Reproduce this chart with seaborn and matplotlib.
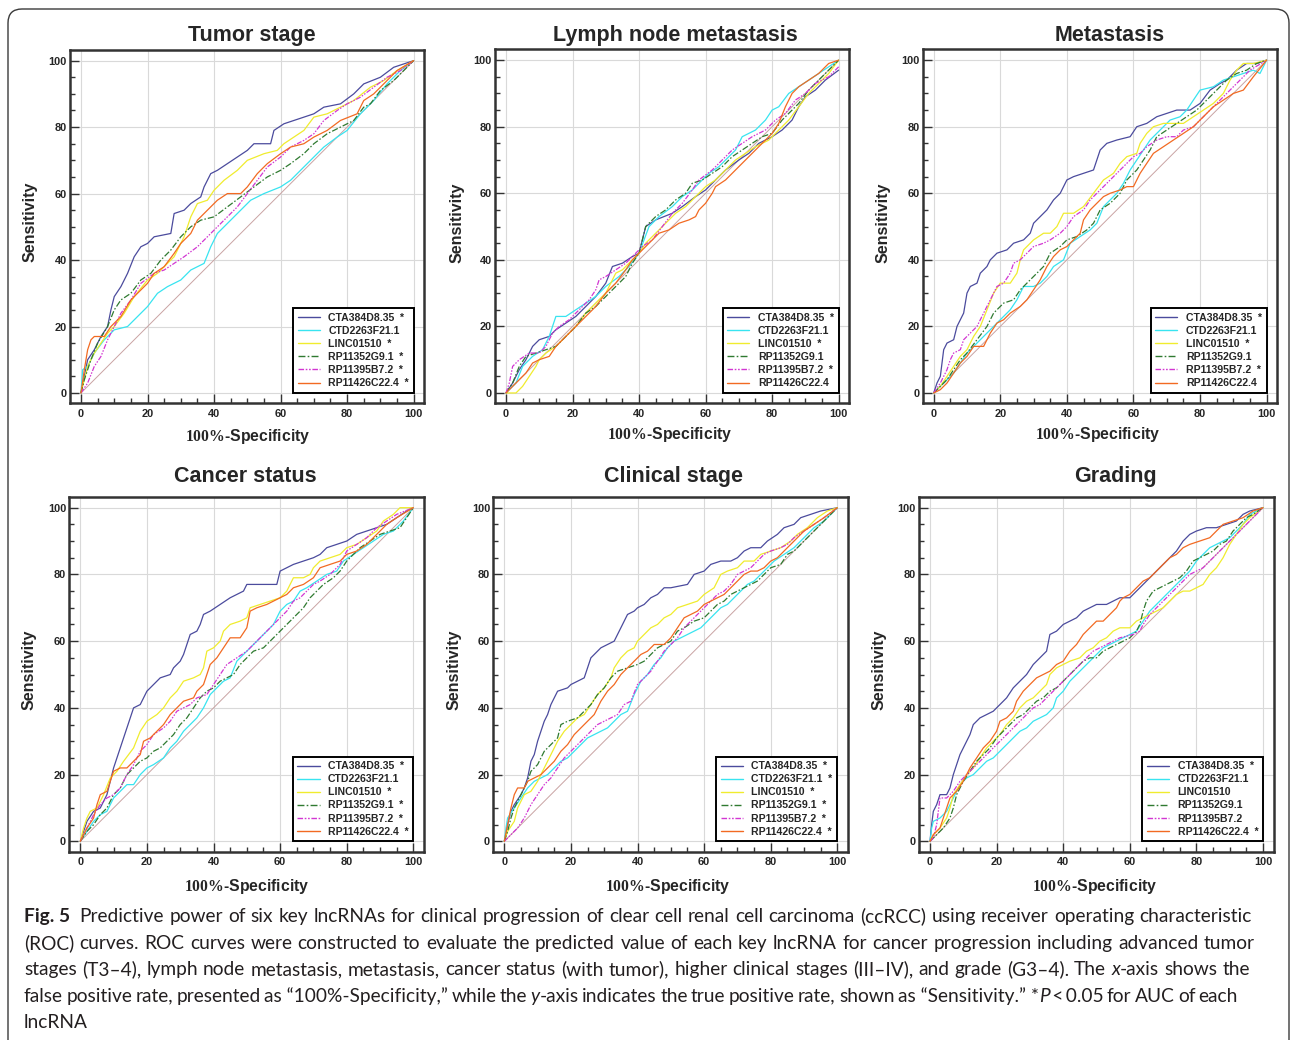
import matplotlib
matplotlib.use("Agg")
import matplotlib.pyplot as plt
import matplotlib.transforms as mtransforms
from matplotlib.patches import FancyBboxPatch
from matplotlib.font_manager import FontProperties, findfont
import pandas as pd
import seaborn as sns

# ---------------- data ----------------
PANEL_TITLES = ["Tumor stage", "Lymph node metastasis", "Metastasis",
                "Cancer status", "Clinical stage", "Grading"]
GENES = ["CTA384D8.35", "CTD2263F21.1", "LINC01510",
         "RP11352G9.1", "RP11395B7.2", "RP11426C22.4"]
# significance star (P<0.05) per panel, in GENES order
STARS_TUMOR = [1, 0, 1, 1, 1, 1]
STARS_LYMPH = [1, 0, 1, 0, 1, 0]
STARS_METAS = [1, 0, 1, 0, 1, 0]
STARS_CANCER = [1, 0, 1, 1, 1, 1]
STARS_CLIN = [1, 1, 1, 1, 1, 1]
STARS_GRADE = [1, 0, 0, 0, 0, 1]
DIAG_X = [0, 100]
DIAG_Y = [0, 100]
X_TICKS = [0, 20, 40, 60, 80, 100]
Y_TICKS = [0, 20, 40, 60, 80, 100]

# ---- Tumor stage ----
TUMOR_CTA = [(0,0),(1,5),(2,10),(4,13),(6,17),(8,20),(9,25),(10,29),(12,32),(14,36),(16,41),(18,44),(20,45),(22,47),(27,48),(28,54),(31,55),(33,57),(36,59),(37,62),(39,66),(41,67),(44,69),(47,71),(50,73),(52,75),(57,75),(58,79),(61,81),(64,82),(70,84),(73,86),(78,87),(82,90),(85,93),(90,95),(94,98),(97,99),(100,100)]
TUMOR_CTD = [(0,0),(0.5,7),(2,8),(4,12),(7,16),(10,19),(14,20),(17,23),(20,26),(23,30),(26,32),(30,34),(33,37),(37,39),(39,44),(41,48),(45,52),(48,55),(51,58),(55,60),(60,62),(63,64),(66,67),(70,71),(73,74),(77,77),(80,79),(84,84),(88,88),(92,93),(96,97),(100,100)]
TUMOR_LINC = [(0,0),(2,8),(4,12),(6,15),(8,18),(10,20),(13,24),(16,29),(20,34),(23,36),(28,41),(31,47),(33,53),(35,57),(38,58),(40,61),(43,64),(47,67),(50,70),(55,72),(59,73),(61,75),(64,77),(67,79),(70,83),(74,84),(78,86),(82,88),(87,92),(91,94),(95,97),(100,100)]
TUMOR_RP352 = [(0,0),(1,4),(3,10),(5,15),(8,20),(10,25),(12,28),(15,30),(18,34),(21,36),(24,40),(27,43),(30,47),(33,50),(36,52),(40,53),(44,56),(48,59),(52,62),(56,65),(60,67),(63,69),(67,72),(70,75),(74,78),(78,80),(82,82),(85,86),(87,87),(90,91),(94,94),(100,100)]
TUMOR_RP395 = [(0,0),(2,3),(4,8),(6,11),(8,16),(10,20),(12,24),(15,28),(18,33),(22,36),(25,37),(28,39),(31,41),(35,44),(38,47),(41,50),(44,53),(47,56),(50,60),(53,64),(56,68),(60,71),(63,74),(67,76),(70,78),(73,82),(77,85),(80,87),(84,89),(88,92),(92,95),(96,97),(100,100)]
TUMOR_RP426 = [(0,0),(1,7),(2,13),(3,16),(4,17),(7,17),(9,20),(12,23),(15,28),(18,31),(20,33),(22,36),(25,38),(28,42),(30,45),(33,48),(35,52),(38,55),(41,58),(44,60),(48,60),(50,62),(53,66),(56,69),(60,72),(63,74),(67,75),(70,77),(74,79),(78,82),(83,84),(85,88),(88,90),(91,93),(95,97),(100,100)]

# ---- Lymph node metastasis ----
LYMPH_CTA = [(0,0),(2,3),(4,7),(6,10),(8,14),(10,16),(13,17),(15,19),(18,21),(21,23),(24,26),(27,29),(30,33),(32,38),(35,39),(38,41),(40,42),(42,50),(45,52),(50,54),(53,56),(57,59),(60,61),(63,64),(66,67),(70,70),(73,72),(76,75),(80,77),(83,79),(86,82),(88,86),(90,89),(93,91),(96,94),(100,97)]
LYMPH_CTD = [(0,0),(3,3),(5,8),(8,11),(11,13),(13,17),(15,23),(18,23),(21,25),(24,27),(27,29),(30,32),(34,35),(37,38),(40,42),(43,50),(46,53),(50,56),(53,59),(56,61),(58,63),(61,66),(64,68),(67,71),(69,73),(71,77),(75,79),(78,82),(80,85),(82,86),(85,90),(88,92),(91,94),(94,96),(97,98),(100,100)]
LYMPH_LINC = [(0,0),(3,0),(5,2),(7,5),(9,8),(10,10),(12,12),(15,14),(18,17),(21,20),(24,24),(27,27),(30,30),(33,36),(35,37),(38,40),(40,42),(42,45),(45,48),(48,51),(51,54),(54,56),(57,59),(60,62),(63,64),(66,67),(69,70),(72,72),(75,74),(79,76),(82,79),(85,82),(88,86),(91,90),(94,93),(97,96),(100,100)]
LYMPH_RP352 = [(0,0),(2,3),(4,8),(6,11),(9,12),(12,13),(15,14),(18,17),(21,20),(24,24),(27,26),(30,29),(33,32),(36,35),(38,39),(40,42),(42,50),(45,53),(48,55),(51,58),(54,60),(56,63),(59,64),(62,66),(65,68),(68,71),(71,73),(74,75),(77,77),(80,78),(83,82),(86,85),(88,87),(91,91),(94,94),(97,97),(100,100)]
LYMPH_RP395 = [(0,0),(1,3),(2,8),(4,10),(7,12),(10,12),(12,14),(14,18),(16,20),(19,22),(22,25),(25,28),(27,31),(28,34),(30,35),(33,37),(36,39),(39,42),(41,44),(44,46),(47,50),(50,54),(53,57),(56,61),(58,64),(62,67),(65,70),(68,73),(71,75),(74,77),(78,79),(81,82),(84,84),(87,88),(90,90),(93,93),(97,95),(100,98)]
LYMPH_RP426 = [(0,0),(2,2),(4,4),(6,6),(8,9),(10,10),(13,11),(15,14),(18,17),(21,20),(24,23),(27,26),(30,30),(33,33),(36,37),(38,40),(40,42),(43,45),(46,48),(49,49),(52,51),(55,52),(57,53),(58,55),(60,57),(62,60),(63,62),(66,64),(68,66),(71,69),(74,72),(77,75),(80,78),(82,81),(84,86),(86,90),(88,92),(91,94),(94,96),(97,99),(100,100)]

# ---- Metastasis ----
METAS_CTA = [(0,0),(1,3),(2,5),(3,13),(4,15),(6,16),(7,20),(8,22),(9,24),(10,30),(11,32),(13,33),(14,36),(16,38),(17,40),(19,42),(22,43),(24,45),(27,46),(29,48),(30,51),(32,53),(34,55),(36,58),(38,60),(40,64),(42,65),(45,66),(48,67),(49,70),(50,73),(52,75),(55,76),(59,77),(61,80),(64,81),(67,83),(70,84),(73,85),(77,85),(80,87),(83,91),(86,93),(88,94),(91,97),(94,99),(97,99),(100,100)]
METAS_CTD = [(0,0),(2,2),(4,4),(6,6),(8,9),(10,12),(13,15),(16,18),(18,20),(20,22),(23,25),(25,28),(27,32),(30,32),(32,33),(34,35),(36,38),(39,40),(41,45),(44,47),(47,49),(49,51),(51,56),(53,58),(55,60),(57,63),(59,67),(61,70),(63,73),(65,76),(68,79),(71,82),(74,83),(76,85),(78,88),(80,91),(84,92),(87,94),(90,95),(93,96),(96,97),(98,96),(100,100)]
METAS_LINC = [(0,0),(2,2),(4,5),(6,8),(8,11),(10,13),(12,17),(14,20),(16,25),(18,30),(20,33),(23,33),(25,36),(26,40),(27,43),(30,46),(33,48),(35,48),(37,50),(39,54),(42,54),(45,56),(48,60),(51,64),(54,66),(56,69),(58,71),(61,72),(62,75),(64,78),(66,80),(69,81),(75,81),(78,83),(81,85),(84,87),(87,90),(89,94),(91,97),(93,99),(96,99),(100,100)]
METAS_RP352 = [(0,0),(2,2),(4,4),(6,7),(8,10),(10,12),(13,16),(16,20),(18,24),(21,27),(24,28),(26,31),(28,33),(30,35),(33,38),(35,42),(38,44),(40,46),(43,47),(46,49),(48,51),(50,55),(53,57),(56,60),(58,64),(61,67),(63,70),(65,73),(67,77),(70,79),(73,81),(76,83),(79,85),(82,88),(85,91),(88,94),(91,96),(94,97),(97,99),(100,100)]
METAS_RP395 = [(0,0),(2,3),(4,7),(5,10),(6,12),(8,13),(9,16),(11,18),(13,20),(15,24),(17,28),(19,32),(21,33),(23,36),(24,39),(26,40),(28,42),(30,44),(33,45),(35,46),(38,48),(40,50),(42,53),(45,55),(47,58),(50,61),(53,64),(55,66),(57,68),(60,71),(62,72),(64,74),(67,76),(70,77),(73,77),(75,79),(78,80),(80,82),(83,85),(86,88),(89,91),(92,94),(95,97),(100,100)]
METAS_RP426 = [(0,0),(2,1),(4,3),(6,6),(8,9),(10,11),(12,14),(15,14),(17,18),(19,21),(21,22),(23,24),(26,26),(28,28),(30,31),(32,34),(34,38),(36,41),(38,43),(40,44),(42,46),(44,48),(45,52),(47,55),(49,57),(51,59),(53,60),(56,61),(58,62),(60,62),(62,66),(64,69),(66,72),(69,74),(72,76),(75,78),(78,80),(81,83),(84,86),(87,88),(90,90),(93,91),(96,95),(100,100)]

# ---- Cancer status ----
CANCER_CTA = [(0,0),(1,3),(2,6),(4,9),(6,10),(8,14),(9,18),(10,22),(11,25),(12,28),(13,31),(14,34),(15,37),(16,40),(18,41),(19,43),(20,45),(22,47),(24,49),(27,50),(28,52),(30,54),(31,56),(32,59),(33,62),(35,63),(36,65),(37,68),(39,69),(42,71),(45,73),(47,74),(49,75),(50,77),(59,77),(60,81),(62,82),(64,83),(67,84),(70,85),(72,86),(74,88),(77,89),(80,90),(83,92),(86,93),(89,94),(92,95),(95,97),(98,99),(100,100)]
CANCER_CTD = [(0,0),(2,3),(4,6),(6,8),(8,9),(10,13),(12,15),(14,17),(16,17),(18,20),(20,22),(22,23),(25,25),(27,28),(29,30),(31,33),(33,35),(35,37),(37,40),(39,44),(41,46),(43,48),(45,49),(47,54),(49,56),(51,58),(54,61),(56,63),(58,65),(60,69),(62,71),(64,72),(66,75),(68,76),(71,78),(74,80),(77,81),(79,84),(82,86),(85,88),(88,90),(91,92),(94,93),(97,96),(100,100)]
CANCER_LINC = [(0,0),(1,4),(2,7),(3,9),(5,10),(7,14),(9,19),(11,21),(13,24),(16,28),(18,33),(20,36),(23,38),(25,40),(27,43),(29,45),(31,48),(34,49),(36,50),(37,52),(38,57),(40,58),(42,60),(43,63),(45,65),(48,66),(50,67),(51,70),(54,71),(57,72),(60,73),(62,75),(64,79),(67,79),(69,80),(70,82),(72,84),(75,85),(78,86),(80,88),(83,89),(86,91),(89,93),(91,96),(94,98),(96,100),(100,100)]
CANCER_RP352 = [(0,0),(2,3),(4,5),(6,8),(8,10),(10,14),(12,16),(14,20),(16,22),(18,24),(20,25),(22,27),(24,28),(26,30),(28,32),(30,35),(32,37),(34,40),(36,43),(38,45),(40,46),(42,48),(44,49),(46,50),(48,53),(50,55),(52,57),(55,58),(57,60),(59,62),(61,64),(63,66),(65,68),(67,70),(69,73),(71,75),(73,77),(76,79),(78,81),(80,84),(82,86),(84,88),(87,90),(90,92),(93,93),(96,94),(98,97),(100,100)]
CANCER_RP395 = [(0,0),(1,2),(2,4),(4,8),(6,11),(8,13),(10,14),(12,16),(14,20),(16,23),(18,27),(20,29),(22,32),(25,34),(27,36),(29,39),(31,40),(33,41),(35,43),(38,44),(40,47),(42,50),(44,53),(47,55),(50,57),(53,60),(55,62),(57,64),(60,67),(62,69),(64,72),(66,73),(68,75),(70,77),(72,78),(75,80),(78,83),(80,87),(83,89),(86,91),(89,94),(92,96),(95,98),(100,100)]
CANCER_RP426 = [(0,0),(1,2),(2,4),(4,7),(5,11),(6,14),(8,15),(9,18),(10,21),(12,22),(14,22),(16,24),(18,26),(19,30),(21,31),(23,33),(25,35),(27,38),(29,40),(31,42),(34,43),(35,45),(37,47),(38,50),(39,53),(41,55),(43,58),(45,61),(48,61),(50,64),(51,69),(53,70),(56,71),(58,72),(60,73),(62,74),(64,76),(67,77),(70,79),(72,82),(75,83),(78,84),(80,86),(83,87),(86,89),(89,92),(92,95),(95,97),(100,100)]

# ---- Clinical stage ----
CLIN_CTA = [(0,0),(1,5),(2,9),(3,11),(5,14),(6,16),(7,19),(8,24),(9,26),(10,30),(11,33),(12,36),(13,38),(14,41),(15,43),(16,45),(19,46),(20,47),(22,48),(24,49),(25,52),(26,55),(28,57),(29,58),(31,59),(33,60),(34,62),(35,64),(36,66),(37,68),(39,69),(40,70),(42,71),(44,73),(46,74),(48,76),(50,76),(55,77),(57,80),(60,81),(62,83),(65,84),(68,84),(70,85),(72,87),(74,88),(77,88),(79,90),(82,92),(84,94),(87,95),(89,97),(92,98),(95,99),(100,100)]
CLIN_CTD = [(0,0),(0.5,4),(1,7),(3,10),(5,13),(7,16),(9,18),(11,19),(13,20),(15,22),(17,24),(19,25),(21,27),(23,29),(25,31),(27,32),(29,33),(31,34),(33,36),(35,38),(37,39),(39,44),(41,48),(43,50),(45,53),(47,55),(49,58),(51,60),(53,61),(55,62),(57,63),(59,64),(61,66),(63,68),(65,70),(67,71),(69,73),(71,75),(73,77),(75,78),(77,80),(79,82),(81,84),(84,86),(87,88),(90,91),(93,94),(96,96),(100,100)]
CLIN_LINC = [(0,0),(1,3),(3,6),(4,10),(6,14),(8,15),(10,18),(12,22),(14,26),(16,30),(18,33),(20,35),(22,37),(24,38),(26,41),(28,44),(30,46),(32,49),(33,52),(35,55),(37,57),(39,58),(40,60),(42,62),(44,64),(46,65),(48,67),(50,68),(52,70),(55,71),(58,72),(60,74),(63,76),(65,80),(67,81),(70,82),(72,84),(75,84),(77,86),(80,87),(83,88),(86,90),(88,92),(91,94),(94,97),(97,99),(100,100)]
CLIN_RP352 = [(0,0),(1,3),(2,7),(3,10),(5,14),(7,18),(8,21),(10,23),(12,27),(14,29),(16,31),(17,35),(19,36),(22,37),(24,39),(26,41),(28,44),(30,46),(32,49),(34,51),(37,52),(40,53),(42,54),(44,56),(46,58),(48,59),(50,60),(52,63),(54,64),(57,66),(60,67),(62,69),(64,71),(66,72),(68,74),(70,75),(72,76),(74,77),(76,78),(78,80),(80,82),(83,83),(85,86),(87,87),(89,89),(92,92),(95,95),(98,98),(100,100)]
CLIN_RP395 = [(0,0),(2,2),(4,4),(6,7),(8,11),(10,14),(12,17),(14,19),(16,22),(18,25),(20,27),(22,29),(24,31),(26,33),(28,35),(30,36),(32,37),(34,38),(36,41),(38,42),(40,47),(42,49),(44,51),(46,54),(48,57),(50,59),(52,61),(54,64),(56,66),(58,68),(60,70),(62,72),(64,74),(66,75),(68,77),(70,80),(72,81),(74,82),(76,84),(78,86),(80,87),(83,88),(85,89),(87,91),(90,93),(93,95),(96,97),(100,100)]
CLIN_RP426 = [(0,0),(1,5),(2,10),(3,14),(4,16),(6,16),(7,18),(9,19),(11,20),(13,22),(15,24),(17,27),(19,29),(21,32),(23,34),(25,36),(27,38),(29,42),(31,45),(33,47),(35,50),(37,52),(39,54),(41,56),(43,57),(45,59),(48,59),(50,61),(52,64),(54,67),(56,68),(58,69),(60,71),(62,72),(64,73),(66,74),(68,76),(70,78),(72,80),(74,81),(76,81),(78,82),(80,84),(82,85),(84,87),(86,89),(88,91),(90,93),(93,95),(96,97),(100,100)]

# ---- Grading ----
GRADE_CTA = [(0,0),(0.5,5),(1,9),(2,11),(3,14),(5,14),(6,16),(7,20),(8,23),(9,26),(10,28),(12,32),(13,35),(15,37),(17,38),(19,39),(21,41),(23,43),(25,46),(27,48),(29,50),(31,53),(33,55),(35,57),(36,62),(38,63),(40,65),(42,66),(44,67),(46,69),(48,70),(50,71),(53,71),(55,72),(57,73),(60,73),(62,75),(64,77),(66,79),(68,81),(70,83),(72,85),(74,87),(76,90),(78,92),(80,93),(83,94),(86,94),(89,95),(92,96),(94,98),(96,99),(100,100)]
GRADE_CTD = [(0,0),(0.5,4),(1,6),(3,7),(5,9),(7,13),(9,17),(11,19),(13,20),(15,22),(17,24),(19,25),(21,27),(23,29),(25,31),(27,33),(29,34),(31,36),(33,37),(35,38),(37,40),(38,43),(40,45),(42,48),(44,50),(46,52),(48,54),(50,56),(52,58),(54,59),(56,60),(58,61),(60,62),(62,63),(64,66),(66,69),(68,71),(70,73),(72,75),(74,77),(76,79),(78,81),(80,84),(82,86),(84,88),(86,89),(88,90),(90,91),(92,93),(94,95),(96,98),(100,100)]
GRADE_LINC = [(0,0),(1,2),(3,4),(5,7),(6,10),(7,14),(9,17),(11,20),(13,22),(15,25),(17,28),(19,30),(21,32),(23,35),(25,37),(27,40),(29,42),(31,43),(33,45),(35,47),(36,50),(38,52),(40,53),(42,54),(45,55),(47,57),(49,58),(51,60),(53,61),(55,63),(57,64),(60,64),(62,66),(64,67),(66,68),(68,69),(70,70),(72,72),(74,74),(76,75),(78,75),(80,76),(82,77),(84,80),(86,82),(88,85),(90,89),(92,92),(94,95),(96,97),(100,100)]
GRADE_RP352 = [(0,0),(2,2),(4,4),(6,7),(7,10),(8,14),(10,18),(12,21),(14,24),(16,26),(18,28),(20,31),(22,33),(24,35),(26,37),(28,38),(30,40),(32,42),(34,43),(36,45),(38,46),(40,48),(42,50),(44,52),(46,54),(48,55),(50,55),(52,57),(54,58),(56,59),(58,60),(60,61),(62,63),(63,65),(64,69),(65,72),(67,75),(69,76),(71,77),(73,78),(75,79),(77,81),(79,84),(81,85),(83,86),(85,87),(87,89),(89,90),(91,93),(93,95),(95,97),(97,98),(100,100)]
GRADE_RP395 = [(0,0),(1,1),(2,5),(3,13),(5,13),(7,15),(9,18),(11,20),(13,22),(15,24),(17,26),(19,28),(21,30),(23,32),(25,34),(27,36),(29,38),(31,40),(33,41),(35,43),(37,45),(39,47),(41,49),(43,51),(45,53),(47,55),(49,57),(51,58),(53,59),(55,60),(57,61),(61,62),(63,63),(64,65),(66,68),(68,70),(70,72),(72,74),(74,76),(76,78),(78,80),(80,81),(82,82),(84,84),(86,86),(88,88),(90,90),(92,92),(95,95),(100,100)]
GRADE_RP426 = [(0,0),(1,2),(3,4),(4,7),(5,10),(6,13),(8,15),(10,18),(12,22),(14,25),(16,28),(18,30),(20,33),(21,36),(23,37),(25,39),(26,42),(28,45),(30,47),(32,49),(34,50),(36,51),(38,53),(40,54),(42,57),(44,59),(46,62),(48,64),(50,66),(52,66),(54,68),(56,70),(57,72),(58,73),(60,74),(62,76),(64,78),(66,79),(68,81),(70,83),(72,85),(74,86),(76,88),(78,89),(81,90),(84,91),(86,93),(88,95),(91,96),(94,97),(97,99),(100,100)]

PANEL_CURVES = [
    [TUMOR_CTA, TUMOR_CTD, TUMOR_LINC, TUMOR_RP352, TUMOR_RP395, TUMOR_RP426],
    [LYMPH_CTA, LYMPH_CTD, LYMPH_LINC, LYMPH_RP352, LYMPH_RP395, LYMPH_RP426],
    [METAS_CTA, METAS_CTD, METAS_LINC, METAS_RP352, METAS_RP395, METAS_RP426],
    [CANCER_CTA, CANCER_CTD, CANCER_LINC, CANCER_RP352, CANCER_RP395, CANCER_RP426],
    [CLIN_CTA, CLIN_CTD, CLIN_LINC, CLIN_RP352, CLIN_RP395, CLIN_RP426],
    [GRADE_CTA, GRADE_CTD, GRADE_LINC, GRADE_RP352, GRADE_RP395, GRADE_RP426],
]
PANEL_STARS = [STARS_TUMOR, STARS_LYMPH, STARS_METAS, STARS_CANCER, STARS_CLIN, STARS_GRADE]

# caption: words separated by spaces, italic parts between underscores
CAPTION_FIG = "Fig. 5"
CAPTION_LINES = [
    "Predictive power of six key lncRNAs for clinical progression of clear cell renal cell carcinoma (ccRCC) using receiver operating characteristic",
    "(ROC) curves. ROC curves were constructed to evaluate the predicted value of each key lncRNA for cancer progression including advanced tumor",
    "stages (T3\u20134), lymph node metastasis, metastasis, cancer status (with tumor), higher clinical stages (III\u2013IV), and grade (G3\u20134). The _x_-axis shows the",
    "false positive rate, presented as\u00a0\u201c100%-Specificity,\u201d while the _y_-axis indicates the true positive rate, shown as\u00a0\u201cSensitivity.\u201d\u00a0*_P_\u2009<\u20090.05 for AUC of each",
    "lncRNA",
]
CAPTION_RIGHT = [1252, 1255, 1250, 1238, None]

# ---------------- styles ----------------
COLORS = ["#4b4b9d", "#38e4f0", "#f0ec2e", "#2f7a30", "#d236d2", "#f26a22"]
DASHES = [None, None, None, (5, 1.6, 1.2, 1.6), (4, 1.2, 1.2, 1.2, 1.2, 1.2), None]

sns.set_theme(style="white")
plt.rcParams["font.family"] = ["Liberation Sans", "DejaVu Sans"]
plt.rcParams["mathtext.fontset"] = "custom"
plt.rcParams["mathtext.bf"] = "Liberation Serif:bold"
plt.rcParams["mathtext.rm"] = "Liberation Serif"

W, H = 1290, 1040
fig = plt.figure(figsize=(W / 100, H / 100), dpi=100)

# axes frames in pixels: left, right, top, bottom
FRAMES = [(70, 424.3, 50, 403.3), (495, 849.3, 49.5, 403.3), (922.7, 1277.3, 49.5, 403.3),
          (69.3, 424, 497, 851.7), (493.3, 848, 497, 851.7), (919, 1273.7, 497, 851.7)]
TITLE_POS = [(252, 41), (675, 41), (1110, 41), (245, 482), (673, 482), (1115, 482)]
YLAB_POS = [(30, 222), (457, 223), (883, 223), (29.5, 670), (454, 670), (879, 670)]
XLAB_POS = [(248, 436.5), (670, 435), (1098, 435), (247, 886.5), (668, 886.5), (1095, 886.5)]

tick_fp = FontProperties(family="Liberation Sans", weight="bold", size=7.9)
leg_fp = FontProperties(family="Liberation Sans", weight="bold", size=7.6)

for i in range(6):
    l, r, t, b = FRAMES[i]
    ax = fig.add_axes([l / W, 1 - b / H, (r - l) / W, (b - t) / H])
    ax.set_axisbelow(True)
    ax.grid(True, which="major", color="#d9d9d9", lw=0.8)
    sns.lineplot(x=DIAG_X, y=DIAG_Y, ax=ax, color="#c9a3a3", lw=0.7, sort=False, estimator=None)
    for g, (gene, curve) in enumerate(zip(GENES, PANEL_CURVES[i])):
        df = pd.DataFrame(curve, columns=["fpr", "tpr"])
        label = gene + ("  *" if PANEL_STARS[i][g] else "")
        sns.lineplot(data=df, x="fpr", y="tpr", ax=ax, color=COLORS[g], lw=0.9,
                     sort=False, estimator=None, label=label)
        if DASHES[g] is not None:
            ax.lines[-1].set_dashes(DASHES[g])
    ax.set_xlim(-3.3, 103.2)
    ax.set_ylim(-3.1, 103.2)
    ax.set_xticks(X_TICKS)
    ax.set_yticks(Y_TICKS)
    ax.set_xticks(range(0, 101, 5), minor=True)
    ax.set_yticks(range(0, 101, 5), minor=True)
    ax.set_xticklabels([str(v) for v in X_TICKS], fontproperties=tick_fp)
    ax.set_yticklabels([str(v) for v in Y_TICKS], fontproperties=tick_fp)
    ax.tick_params(axis="both", which="both", direction="in", color="#333333", width=1.0)
    ax.tick_params(axis="both", which="major", length=6.5)
    ax.tick_params(axis="both", which="minor", length=3.5)
    ax.tick_params(axis="x", which="both", pad=4.0, bottom=True)
    ax.tick_params(axis="y", which="both", pad=2.2, left=True)
    for s in ax.spines.values():
        s.set_color("#333333")
        s.set_linewidth(1.8)
    # title & labels
    tx, ty = TITLE_POS[i]
    ax.set_title(PANEL_TITLES[i], x=(tx - l) / (r - l), y=(b - ty) / (b - t), pad=0,
                 fontsize=15.5, fontweight="bold", family="Liberation Sans")
    ax.set_xlabel(r"$\mathbf{100\%}$-Specificity", fontsize=11.3, fontweight="bold",
                  family="Liberation Sans")
    ax.set_ylabel("Sensitivity", fontsize=11.5, fontweight="bold", family="Liberation Sans")
    xx, xy = XLAB_POS[i]
    ax.xaxis.set_label_coords((xx - l) / (r - l), (b - xy) / (b - t))
    ax.xaxis.label.set_va("center")
    yx, yy = YLAB_POS[i]
    ax.yaxis.set_label_coords((yx - l) / (r - l), (b - yy) / (b - t))
    ax.yaxis.label.set_va("center")
    leg = ax.legend(loc="lower right", bbox_to_anchor=(100, 0), bbox_transform=ax.transData,
                    borderaxespad=0, frameon=True, fancybox=False, framealpha=1,
                    edgecolor="black", prop=leg_fp, handlelength=2.1, handletextpad=0.8,
                    labelspacing=0.29, borderpad=0.45)
    leg.get_frame().set_linewidth(1.4)
    for h in leg.get_lines():
        h.set_linewidth(1.0)

# ---------------- outer rounded border ----------------
border = FancyBboxPatch((8, -30), 1281, H - 9 + 30, boxstyle="round,pad=0,rounding_size=14",
                        transform=mtransforms.IdentityTransform(), fill=False,
                        edgecolor="#3a3a3a", lw=1.0)
fig.patches.append(border)

# ---------------- caption ----------------
renderer = fig.canvas.get_renderer()
cap_family = "Lato"
try:
    findfont(FontProperties(family="Lato"), fallback_to_default=False)
except Exception:
    cap_family = "DejaVu Sans"
CAP_COLOR = "#231f20"


def text_width(s, size, weight="normal", style="normal"):
    t = fig.text(0, 0, s, fontsize=size, family=cap_family, weight=weight, style=style)
    w = t.get_window_extent(renderer).width
    t.remove()
    return w


def seg_width(s, size, weight="normal", style="normal"):
    w_bar = text_width("|", size, weight, style)
    return text_width("|" + s + "|", size, weight, style) - 2 * w_bar


def parse_word(word):
    parts = word.split("_")
    return [(p, "italic" if k % 2 else "normal") for k, p in enumerate(parts) if p]


def word_width(parts, size):
    return sum(seg_width(p, size, style=st) for p, st in parts)


LEFT_PX = 24
trial = 12.0
fig_w_trial = seg_width(CAPTION_FIG + "  ", trial, weight="bold")
sp_trial = seg_width(" ", trial)
fits = []
for k, line in enumerate(CAPTION_LINES):
    if CAPTION_RIGHT[k] is None:
        continue
    words = [parse_word(w) for w in line.split(" ")]
    nat = sum(word_width(p, trial) for p in words) + sp_trial * (len(words) - 1)
    if k == 0:
        nat += fig_w_trial
    fits.append(trial * (CAPTION_RIGHT[k] - LEFT_PX) / nat)
cap_size = sum(fits) / len(fits)

BASELINES = [922.3, 948.8, 975.3, 1001.8, 1028.3]
space_w = seg_width(" ", cap_size)
for k, line in enumerate(CAPTION_LINES):
    x = LEFT_PX
    yb = 1 - BASELINES[k] / H
    if k == 0:
        fig.text(x / W, yb, CAPTION_FIG, fontsize=cap_size, family=cap_family, weight="bold",
                 va="baseline", ha="left", color=CAP_COLOR)
        x += seg_width(CAPTION_FIG + "  ", cap_size, weight="bold")
    words = [parse_word(w) for w in line.split(" ")]
    widths = [word_width(p, cap_size) for p in words]
    if CAPTION_RIGHT[k] is not None and len(words) > 1:
        gap = (CAPTION_RIGHT[k] - x - sum(widths)) / (len(words) - 1)
    else:
        gap = space_w
    for parts, w in zip(words, widths):
        xp = x
        for p, st in parts:
            fig.text(xp / W, yb, p, fontsize=cap_size, family=cap_family, style=st,
                     va="baseline", ha="left", color=CAP_COLOR)
            xp += seg_width(p, cap_size, style=st)
        x += w + gap

fig.savefig("out.png", dpi=100)
